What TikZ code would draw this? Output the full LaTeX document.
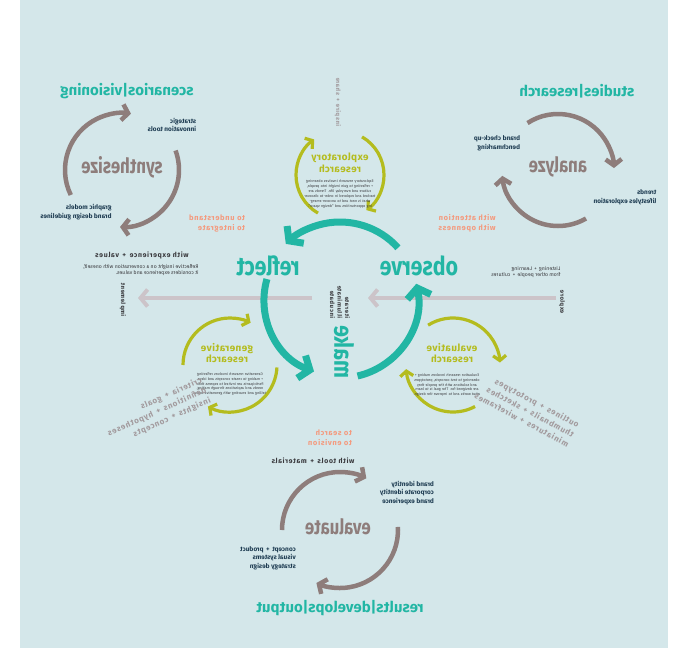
\documentclass[tikz,border=0pt]{standalone}
\usepackage{fontspec}
\setmainfont{Fira Sans}
\newfontfamily\narrowf{Fira Sans}[FakeStretch=0.82]
\newfontfamily\modef{Fira Sans}[FakeStretch=0.8]
\newfontfamily\spacedf{Fira Sans}[LetterSpace=9]
\newfontfamily\headf{Fira Sans}[LetterSpace=4]
\usetikzlibrary{arrows.meta}

\definecolor{bgblue}{HTML}{D4E7EA}
\definecolor{cteal}{HTML}{22B6A4}
\definecolor{cbrown}{HTML}{8E7D7B}
\definecolor{colive}{HTML}{B4BC1E}
\definecolor{csalmon}{HTML}{F49A7E}
\definecolor{cnavy}{HTML}{1E3C52}
\definecolor{cpale}{HTML}{CCC4C9}
\definecolor{cgraytxt}{HTML}{A29A9D}
\definecolor{cdark}{HTML}{3A3A3E}

\tikzset{
  mainloop/.style={line width=7pt, cteal, -{Straight Barb[length=9pt,width=24pt]}},
  subloop/.style={line width=4.5pt, cbrown, -{Straight Barb[length=6pt,width=16pt]}},
  reloop/.style={line width=3.2pt, colive, -{Straight Barb[length=5pt,width=13pt]}},
  flow/.style={line width=4pt, cpale, -{Straight Barb[length=7pt,width=17pt]}},
  stage/.style={font=\narrowf\bfseries\fontsize{26}{26}\selectfont, text=cteal},
  mode/.style={font=\modef\bfseries\fontsize{21}{21}\selectfont, text=cbrown},
  area/.style={font=\bfseries\fontsize{15}{15}\selectfont, text=cteal},
  kind/.style={font=\headf\bfseries\fontsize{10}{11.5}\selectfont, text=colive},
  aim/.style={font=\spacedf\bfseries\fontsize{7.5}{10}\selectfont, text=csalmon, align=left},
  tool/.style={font=\bfseries\fontsize{6.5}{8.5}\selectfont, text=cnavy, align=left},
  medium/.style={font=\spacedf\bfseries\fontsize{7}{9}\selectfont, text=cdark},
  output/.style={font=\spacedf\bfseries\fontsize{8}{11}\selectfont, text=cgraytxt, align=left},
  note/.style={font=\fontsize{3.7}{4.9}\selectfont, text=cdark, text width=74pt, align=center},
  tiny/.style={font=\fontsize{5.2}{6.6}\selectfont, text=cdark, align=left},
  upright/.style={font=\spacedf\bfseries\fontsize{6}{7.5}\selectfont, text=cdark, rotate=90},
}

\begin{document}
\begin{tikzpicture}[x=1pt, y=-1pt,
  every node/.style={xscale=-1, inner sep=0pt, align=center}]
\useasboundingbox (0,0) rectangle (686,657);
\fill[bgblue] (20,0) rectangle (668,648);

% ---- flow arrows through the centre
\coordinate (inR) at (556,298);
\coordinate (inC) at (368,298);
\coordinate (outC) at (312,298);
\coordinate (outL) at (138,298);
\draw[flow] (inR) -- (inC);
\draw[flow] (outC) -- (outL);

% ---- main cycle: observe / reflect / make
\begin{scope}[shift={(340,300)}]
  \draw[mainloop] (318:78) arc[start angle=318, end angle=226, radius=78];
  \draw[mainloop] (196:76) arc[start angle=196, end angle=110, radius=76];
  \draw[mainloop] (77:78) arc[start angle=77, end angle=-12, radius=78];
\end{scope}
\node[stage] (reflect) at (268,266) {reflect};
\node[stage] (observe) at (419,266) {observe};
\node[stage, rotate=90] (make) at (344,352) {make};
\node[upright, align=left] (centre) at (340,302) {iterate\\illuminate\\incubate};
\node[upright] (implement) at (123,300) {implement};
\node[upright] (explore) at (562,302) {explore};
\node[upright, text=cgraytxt] (share) at (338,102) {inspire \,+\, share};

\node[medium] (withexp) at (142,255) {with experience \,+\, values};
\node[tiny] (reflnote) at (141,270) {Reflective insight on a conversation with oneself,\\it considers experience and values.};
\node[tiny] (listen) at (526,272) {Listening \,+\, Learning\\from other people \,+\, cultures};

% ---- synthesize
\begin{scope}[shift={(122,170)}]
  \draw[subloop] (154:57) arc[start angle=154, end angle=279, radius=57];
  \draw[subloop] (-20:57) arc[start angle=-20, end angle=92, radius=57];
\end{scope}
\node[mode] (synth) at (122,167) {synthesize};
\node[area] (scen) at (127,91) {scenarios|visioning};
\node[tool] (strat) at (172,125) {strategic\\innovation tools};
\node[tool] (graphic) at (76,212) {graphic models\\brand design guidelines};
\node[aim] (understand) at (217,223) {to understand\\to integrate};

% ---- analyze
\begin{scope}[shift={(558,170)}]
  \draw[subloop] (237:56) arc[start angle=237, end angle=358, radius=56];
  \draw[subloop] (60:56) arc[start angle=60, end angle=174, radius=56];
\end{scope}
\node[mode] (analyze) at (558,167) {analyze};
\node[area] (studies) at (577,91) {studies|research};
\node[tool] (check) at (497,143) {brand check-up\\benchmarking};
\node[tool] (trends) at (625,197) {trends\\lifestyles exploration};
\node[aim] (attention) at (467,223) {with attention\\with openness};

% ---- exploratory research
\begin{scope}[shift={(340,175)}]
  \draw[reloop] (120:44) arc[start angle=120, end angle=234, radius=44];
  \draw[reloop] (300:44) arc[start angle=300, end angle=413, radius=44];
\end{scope}
\node[kind] (explor) at (340,163) {exploratory\\research};
\node[note] (explnote) at (340,194) {Exploratory research involves observing + reflecting to gain insight into people, culture and everyday life. Trends are tracked and explored in order to discover what is next and to uncover emerging opportunities and \textquotedblleft design space\textquotedblright.};

% ---- generative research
\begin{scope}[shift={(230,365)}]
  \draw[reloop] (180:47) arc[start angle=180, end angle=296, radius=47];
  \draw[reloop] (3:47) arc[start angle=3, end angle=118, radius=47];
\end{scope}
\node[kind] (gener) at (227,353) {generative\\research};
\node[note] (genote) at (230,384) {Generative research involves reflecting + making to create concepts and ideas. Participants are invited to express their needs and aspirations through making, telling and enacting with generative tools.};
\node[output, rotate=-24] (criteria) at (157,412) {criteria \,+\, goals\\definitions \,+\, hypotheses\\insights \,+\, concepts};

% ---- evaluative research
\begin{scope}[shift={(453,365)}]
  \draw[reloop] (238:47) arc[start angle=238, end angle=357, radius=47];
  \draw[reloop] (62:47) arc[start angle=62, end angle=175, radius=47];
\end{scope}
\node[kind] (evalr) at (452,353) {evaluative\\research};
\node[note] (evnote) at (447,385) {Evaluative research involves making + observing to test concepts, prototypes and solutions with the people they are designed for. The goal is to learn what works and to improve the design.};
\node[output, rotate=28] (outlines) at (527,410) {outlines \,+\, prototypes\\thumbnails \,+\, sketches\\miniatures \,+\, wireframes};

% ---- evaluate
\begin{scope}[shift={(340,530)}]
  \draw[subloop] (180:58) arc[start angle=180, end angle=297, radius=58];
  \draw[subloop] (-3:58) arc[start angle=-3, end angle=114, radius=58];
\end{scope}
\node[mode] (evaluate) at (338,527) {evaluate};
\node[aim] (search) at (330,438) {to search\\to envision};
\node[medium] (tools) at (313,461) {with tools \,+\, materials};
\node[tool] (identity) at (407,493) {brand identity\\corporate identity\\brand experience};
\node[tool] (concept) at (268,558) {concept \,+\, product\\visual systems\\strategy design};
\node[area] (results) at (340,608) {results|develops|output};
\end{tikzpicture}
\end{document}
